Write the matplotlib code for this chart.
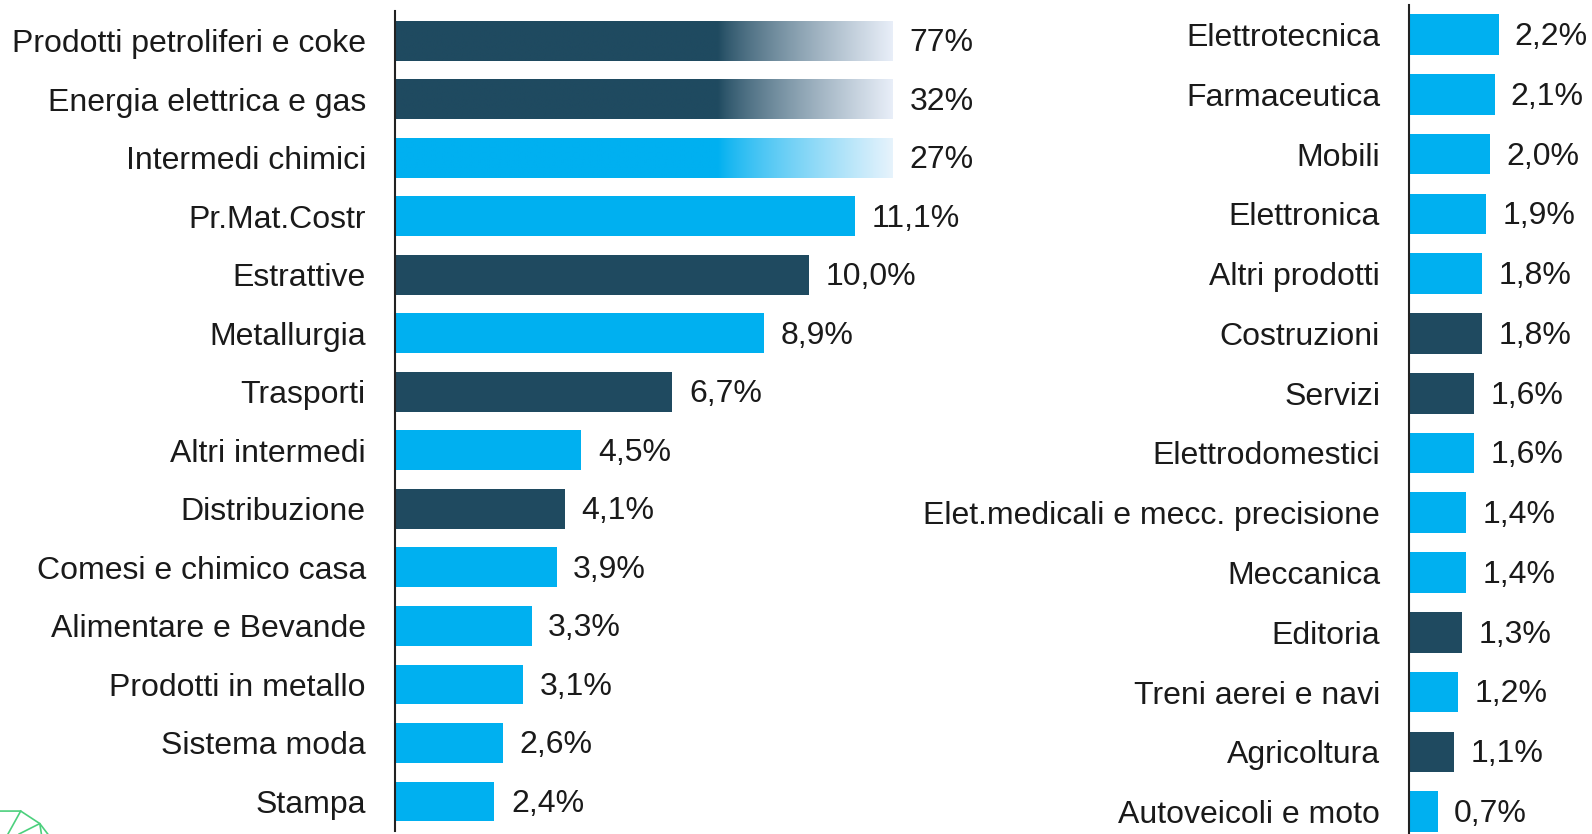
import numpy as np
import matplotlib
matplotlib.use("Agg")
import matplotlib.pyplot as plt
from matplotlib.colors import to_rgb

plt.rcParams['font.family'] = ['Liberation Sans', 'DejaVu Sans']

# left panel
left_labels = ["Prodotti petroliferi e coke", "Energia elettrica e gas", "Intermedi chimici",
               "Pr.Mat.Costr", "Estrattive", "Metallurgia", "Trasporti", "Altri intermedi",
               "Distribuzione", "Comesi e chimico casa", "Alimentare e Bevande",
               "Prodotti in metallo", "Sistema moda", "Stampa"]
left_values = [77, 32, 27, 11.1, 10.0, 8.9, 6.7, 4.5, 4.1, 3.9, 3.3, 3.1, 2.6, 2.4]
left_text = ["77%", "32%", "27%", "11,1%", "10,0%", "8,9%", "6,7%", "4,5%", "4,1%",
             "3,9%", "3,3%", "3,1%", "2,6%", "2,4%"]
left_dark = [1, 1, 0, 0, 1, 0, 1, 0, 1, 0, 0, 0, 0, 0]

# right panel
right_labels = ["Elettrotecnica", "Farmaceutica", "Mobili", "Elettronica", "Altri prodotti",
                "Costruzioni", "Servizi", "Elettrodomestici",
                "Elet.medicali e mecc. precisione", "Meccanica", "Editoria",
                "Treni aerei e navi", "Agricoltura", "Autoveicoli e moto"]
right_values = [2.2, 2.1, 2.0, 1.9, 1.8, 1.8, 1.6, 1.6, 1.4, 1.4, 1.3, 1.2, 1.1, 0.7]
right_text = ["2,2%", "2,1%", "2,0%", "1,9%", "1,8%", "1,8%", "1,6%", "1,6%", "1,4%",
              "1,4%", "1,3%", "1,2%", "1,1%", "0,7%"]
right_dark = [0, 0, 0, 0, 0, 1, 1, 0, 0, 0, 1, 0, 1, 0]

CAP = 12.0  # bars above this are cut and faded
DARK = "#1F4A60"
LIGHT = "#00B0F0"
TXT = "#1a1a1a"
FADE_END = {DARK: "#E8EEF8", LIGHT: "#E6F3FC"}
FS = 23

W, H = 1568, 821
fig = plt.figure(figsize=(15.92, 8.34), dpi=100)
per_pct = 40.8 / W


def panel(rect, xmax, labels, values, texts, dark):
    ax = fig.add_axes(rect)
    n = len(labels)
    y = np.arange(n)
    cols = [DARK if d else LIGHT for d in dark]
    for i in range(n):
        v = values[i]
        if v > CAP:
            c0 = np.array(to_rgb(cols[i]))
            c1 = np.array(to_rgb(FADE_END[cols[i]]))
            t = np.linspace(0, 1, 300)
            f = np.clip((t - 0.65) / 0.35, 0, 1) ** 0.8
            img = c0[None, :] * (1 - f[:, None]) + c1[None, :] * f[:, None]
            ax.imshow(img[None, :, :], extent=(0, CAP, i + 0.34, i - 0.34),
                      aspect="auto", interpolation="bilinear", zorder=2)
            ax.text(CAP + 0.43, i + 0.04, texts[i], va="center", ha="left",
                    fontsize=FS, color=TXT, clip_on=False)
        else:
            ax.barh(i, v, height=0.68, color=cols[i], zorder=2)
            ax.text(v + 0.4, i + 0.04, texts[i], va="center", ha="left",
                    fontsize=FS, color=TXT, clip_on=False)
    ax.set_xlim(0, xmax)
    ax.set_ylim(n - 0.5, -0.5)
    ax.set_yticks(y)
    ax.set_yticklabels(labels, fontsize=FS, color=TXT)
    ax.tick_params(axis="y", length=0, pad=21)
    ax.set_xticks([])
    for s in ["top", "right", "bottom"]:
        ax.spines[s].set_visible(False)
    ax.spines["left"].set_color("#222222")
    ax.spines["left"].set_linewidth(1.5)
    ax.set_facecolor("none")
    return ax


top_l, bot_l = 11.2, 817.8
panel([389 / W, 1 - bot_l / H, 14 * per_pct, (bot_l - top_l) / H], 14,
      left_labels, left_values, left_text, left_dark)

top_r, bot_r = 4.6, 828.4
panel([1388 / W, 1 - bot_r / H, 4 * 40.0 / W, (bot_r - top_r) / H], 4,
      right_labels, right_values, right_text, right_dark)

# logo fragment in the corner
green = "#4CD07D"
fig.add_artist(plt.Line2D([0.0, 0.013, 0.025, 0.030], [0.0275, 0.0275, 0.0125, 0.0],
                          color=green, lw=1.2, transform=fig.transFigure))
fig.add_artist(plt.Line2D([0.005, 0.013], [0.0, 0.0275],
                          color=green, lw=1.2, transform=fig.transFigure))
fig.add_artist(plt.Line2D([0.012, 0.025, 0.026], [0.0, 0.0125, 0.0],
                          color=green, lw=1.2, transform=fig.transFigure))

fig.savefig("out.png", dpi=100, facecolor="white")
